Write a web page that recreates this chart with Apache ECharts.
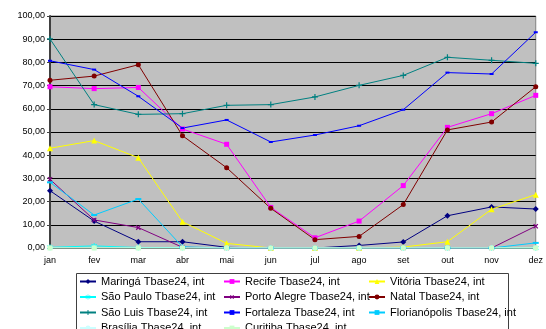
<!DOCTYPE html>
<html>
<head>
<meta charset="utf-8">
<script src="https://cdn.jsdelivr.net/npm/echarts@6/dist/echarts.min.js"></script>
<style>
  html, body { margin: 0; padding: 0; background: #fff; }
  #chart { width: 546px; height: 329px; }
</style>
</head>
<body>
<div id="chart"></div>
<script>
const months = ['jan', 'fev', 'mar', 'abr', 'mai', 'jun', 'jul', 'ago', 'set', 'out', 'nov', 'dez'];

// valores (Tbase24, int)
const maringa = [24.7, 11.6, 2.7, 2.7, 0.3, 0, 0, 1.1, 2.6, 13.9, 17.7, 16.8];
const recife = [69.5, 68.7, 69.2, 51.3, 44.7, 17.5, 4.4, 11.6, 26.9, 52.0, 57.9, 65.8];
const vitoria = [43.0, 46.3, 38.9, 11.3, 2.0, 0, 0, 0, 0.4, 2.7, 16.7, 23.0];
const saoPaulo = [0.3, 0.9, 0.2, 0.2, 0, 0, 0, 0, 0, 0, 0, 0];
const portoAlegre = [29.6, 12.1, 8.8, 0.3, 0, 0, 0, 0, 0, 0, 0, 9.4];
const natal = [72.3, 74.1, 79.0, 48.4, 34.6, 17.1, 3.6, 5.0, 18.7, 50.9, 54.3, 69.5];
const saoLuis = [90.1, 61.8, 57.6, 57.9, 61.5, 61.8, 65.1, 70.1, 74.4, 82.2, 80.9, 79.6];
const fortaleza = [80.7, 76.9, 65.4, 51.7, 55.2, 45.7, 48.7, 52.7, 59.6, 75.6, 75.0, 93.0];
const florianopolis = [28.3, 14.2, 21.1, 0.5, 0, 0, 0, 0, 0, 0, 0, 2.2];
const brasilia = [0, 0, 0, 0, 0, 0, 0, 0, 0, 0, 0, 0];
const curitiba = [0, 0, 0, 0, 0, 0, 0, 0, 0, 0, 0, 0];

const plus = 'path://M4,0H6V4H10V6H6V10H4V6H0V4H4Z';
const star = 'path://M4.3,0H5.7V3.3L8.6,1.6L9.3,2.8L6.4,4.5V5.5L9.3,7.2L8.6,8.4L5.7,6.7V10H4.3V6.7L1.4,8.4L0.7,7.2L3.6,5.5V4.5L0.7,2.8L1.4,1.6L4.3,3.3Z';
const dash = 'path://M0,0H10V2H0Z';

const seriesDefs = [
  { name: 'Maringá Tbase24, int', data: maringa, color: '#000080', symbol: 'diamond', size: 6 },
  { name: 'Recife Tbase24, int', data: recife, color: '#FF00FF', symbol: 'rect', size: 5 },
  { name: 'Vitória Tbase24, int', data: vitoria, color: '#FFFF00', symbol: 'triangle', size: 6 },
  { name: 'São Paulo Tbase24, int', data: saoPaulo, color: '#00FFFF', symbol: star, size: 6 },
  { name: 'Porto Alegre Tbase24, int', data: portoAlegre, color: '#800080', symbol: plus, size: 6, rotate: 45 },
  { name: 'Natal Tbase24, int', data: natal, color: '#800000', symbol: 'circle', size: 5 },
  { name: 'São Luis Tbase24, int', data: saoLuis, color: '#008080', symbol: plus, size: 6 },
  { name: 'Fortaleza Tbase24, int', data: fortaleza, color: '#0000FF', symbol: dash, size: [4, 2] },
  { name: 'Florianópolis Tbase24, int', data: florianopolis, color: '#00CCFF', symbol: dash, size: [6, 2] },
  { name: 'Brasília Tbase24, int', data: brasilia, color: '#CCFFFF', symbol: 'circle', size: 5 },
  { name: 'Curitiba Tbase24, int', data: curitiba, color: '#CCFFCC', symbol: 'rect', size: 5 }
];

const series = seriesDefs.map(s => ({
  name: s.name,
  type: 'line',
  data: s.data,
  symbol: s.symbol,
  symbolSize: s.size,
  symbolRotate: s.rotate || 0,
  showSymbol: true,
  animation: false,
  lineStyle: { color: s.color, width: 1 },
  itemStyle: { color: s.color, borderWidth: 0 }
}));

const legendCol = (left, names) => ({
  orient: 'vertical',
  left: left,
  top: 275,
  height: 120,
  padding: 0,
  itemGap: 2.5,
  itemWidth: 16,
  itemHeight: 6,
  data: names,
  textStyle: { fontFamily: 'Liberation Sans, Arial', fontSize: 11, color: '#000', lineHeight: 13 }
});

const names = seriesDefs.map(s => s.name);

const chart = echarts.init(document.getElementById('chart'), null, { renderer: 'canvas' });
chart.setOption({
  backgroundColor: '#fff',
  animation: false,
  textStyle: { fontFamily: 'Liberation Sans, Arial' },
  grid: {
    left: 50, right: 10, top: 16, bottom: 81,
    show: true,
    backgroundColor: '#C0C0C0',
    borderColor: '#808080',
    borderWidth: 1
  },
  xAxis: {
    type: 'category',
    data: months,
    boundaryGap: false,
    axisLine: { lineStyle: { color: '#404040', width: 1 } },
    axisTick: { show: false },
    axisLabel: { color: '#000', fontSize: 9, margin: 8 }
  },
  yAxis: {
    type: 'value',
    min: 0, max: 100, interval: 10,
    axisLine: { show: true, lineStyle: { color: '#404040', width: 2 } },
    axisTick: { show: true, length: 3, lineStyle: { color: '#404040' } },
    axisLabel: {
      color: '#000', fontSize: 9, margin: 5,
      formatter: v => v.toFixed(2).replace('.', ',')
    },
    splitLine: { lineStyle: { color: '#000', width: 1 } }
  },
  legend: [
    legendCol(79, [names[0], names[3], names[6], names[9]]),
    legendCol(223, [names[1], names[4], names[7], names[10]]),
    legendCol(368, [names[2], names[5], names[8]])
  ],
  graphic: [{
    type: 'rect',
    shape: { x: 76.5, y: 273.5, width: 432, height: 70 },
    style: { fill: 'none', stroke: '#404040', lineWidth: 1 },
    silent: true
  }],
  series: series
});
</script>
</body>
</html>
